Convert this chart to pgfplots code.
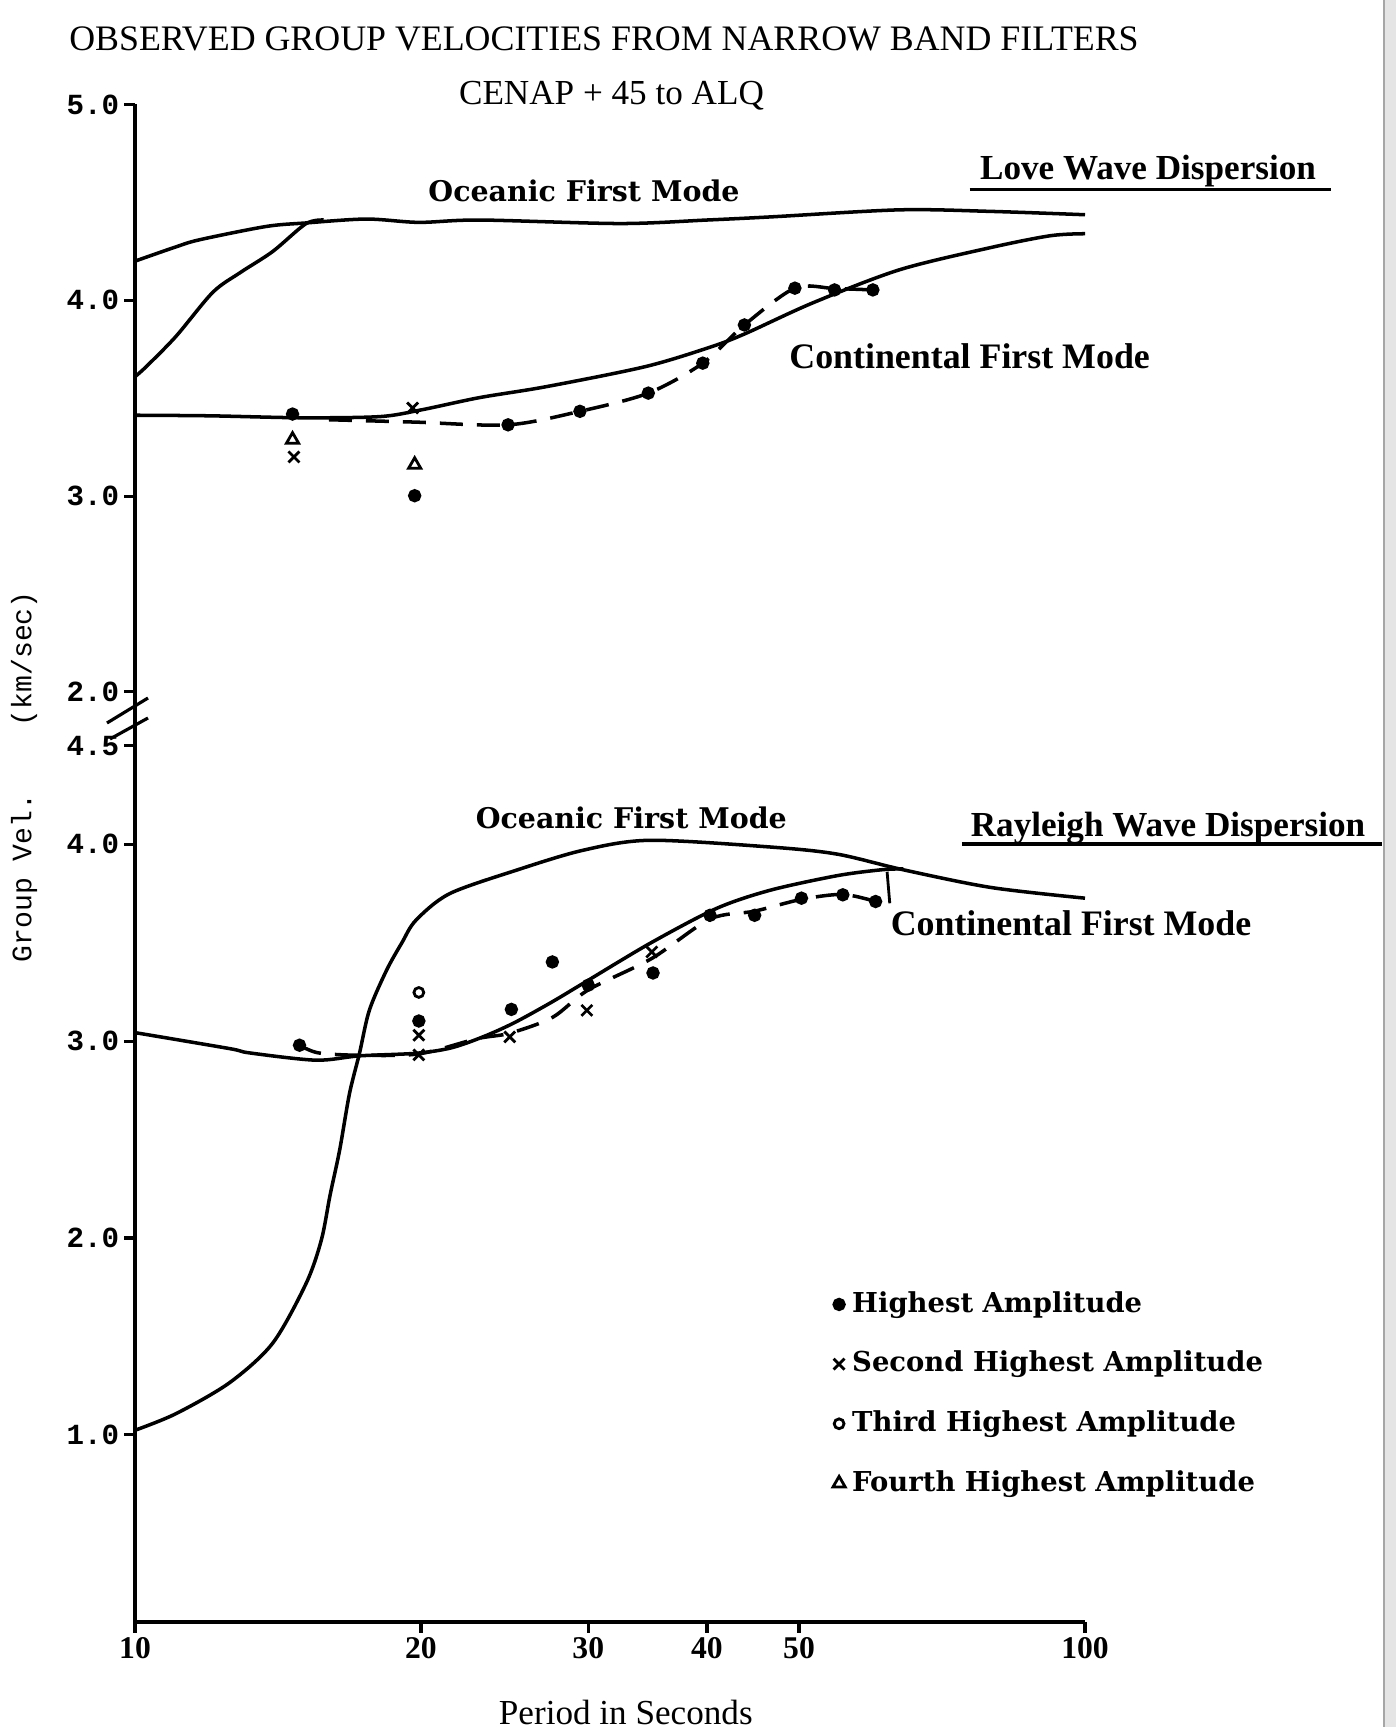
\documentclass[border=0pt]{standalone}
\usepackage{fontspec}
\usepackage{pgfplots}
\pgfplotsset{compat=1.18}
\setmainfont{Liberation Serif}
\newfontfamily\slab{DejaVu Serif}
\newfontfamily\mono{Liberation Mono}

\pgfplotsset{
  curve/.style={black, line width=1pt, smooth, tension=0.5},
  fitline/.style={black, line width=1pt, smooth, tension=0.5, dash pattern=on 2.3mm off 1.4mm},
  pts/.style={only marks, black, line width=0.8pt,
    legend image code/.code={\draw[mark repeat=2,mark phase=2,##1] plot coordinates {(0mm,0mm)(1mm,0mm)(2mm,0mm)};}},
  dots/.style={pts, mark=*, mark size=1.5pt},
  xs/.style={pts, mark=x, mark size=2.2pt},
  os/.style={pts, mark=o, mark size=1.4pt},
  tris/.style={pts, mark=triangle, mark size=2pt},
}

\begin{document}
\begin{tikzpicture}
\path[use as bounding box] (0,0) rectangle (139.6mm,-172.7mm);
\fill[black!10] (138.3mm,0) rectangle (139.6mm,-172.7mm);
\draw[black!35, line width=0.6pt] (138.4mm,0) -- (138.4mm,-172.7mm);

% Love wave panel
\begin{axis}[
  xmode=log, xmin=10, xmax=100, ymin=2, ymax=5,
  scale only axis, width=95mm, height=58.74mm,
  at={(13.5mm,-69.19mm)}, anchor=south west,
  axis x line=none, axis y line*=left,
  xtick=\empty, ytick={2,3,4,5}, yticklabels={2.0,3.0,4.0,5.0},
  tick align=outside, major tick length=1.1mm,
  axis line style={line width=1.3pt},
  every tick/.style={black, line width=0.9pt},
  yticklabel style={font=\mono\bfseries\fontsize{8.3}{8}\selectfont, inner sep=1.2pt},
  yminorticks=false, clip=false]
\addplot[curve] coordinates {(10,4.20)(11.0,4.27)(11.69,4.309)(13.74,4.377)(15.13,4.395)(17.52,4.415)(19.9,4.398)(23.05,4.41)(32.4,4.392)(40,4.41)(46.7,4.426)(63.8,4.462)(79.7,4.454)(100,4.437)};
\addplot[curve] coordinates {(10,3.61)(10.27,3.66)(11.04,3.815)(12.07,4.04)(12.89,4.14)(13.96,4.249)(15.13,4.391)(15.8,4.41)};
\addplot[curve] coordinates {(10,3.413)(12,3.41)(15,3.40)(18.1,3.406)(20,3.44)(23.05,3.503)(27.1,3.559)(34.5,3.662)(40.5,3.764)(44,3.832)(51.7,3.987)(63.8,4.156)(79.7,4.27)(92,4.33)(100,4.34)};
\addplot[fitline] coordinates {(16.0,3.39)(19.7,3.378)(24.7,3.364)(29.4,3.433)(34.7,3.526)(39.6,3.679)(43.8,3.874)(49.5,4.062)(54.5,4.06)(59.8,4.053)};
\addplot[dots] coordinates {(14.65,3.419)(19.7,3.002)(24.7,3.364)(29.4,3.433)(34.7,3.526)(39.6,3.679)(43.8,3.874)(49.5,4.062)(54.5,4.053)(59.8,4.053)};
\addplot[xs] coordinates {(14.7,3.20)(19.6,3.45)};
\addplot[tris] coordinates {(14.65,3.288)(19.7,3.16)};
\end{axis}

% Rayleigh wave panel
\begin{axis}[
  xmode=log, xmin=10, xmax=100, ymin=0.05, ymax=4.5,
  scale only axis, width=95mm, height=87.6mm,
  at={(13.5mm,-162.18mm)}, anchor=south west,
  axis x line*=bottom, axis y line*=left,
  ytick={1,2,3,4,4.5}, yticklabels={1.0,2.0,3.0,4.0,4.5},
  xtick={10,20,30,40,50,100}, xticklabels={10,20,30,40,50,100},
  tick align=outside, major tick length=1.1mm,
  axis line style={line width=1.3pt},
  every tick/.style={black, line width=0.9pt},
  yticklabel style={font=\mono\bfseries\fontsize{8.3}{8}\selectfont, inner sep=1.2pt},
  xticklabel style={font=\bfseries\fontsize{9}{9}\selectfont, inner sep=1pt},
  xminorticks=false, yminorticks=false, clip=false,
  legend style={draw=none, fill=none, at={(0.734,0.386)}, anchor=north west,
    font=\slab\bfseries\fontsize{7.8}{9}\selectfont, row sep=1.95mm, inner sep=0pt},
  legend cell align=left]
\addplot[curve, forget plot] coordinates {(10,1.023)(11.04,1.107)(12.57,1.264)(13.96,1.465)(15.14,1.769)(15.71,1.99)(16.05,2.22)(16.42,2.445)(16.82,2.734)(17.23,2.937)(17.65,3.157)(18.4,3.36)(19.1,3.50)(19.76,3.614)(21.44,3.749)(25.2,3.868)(29.6,3.969)(34.8,4.02)(46.6,3.986)(54.8,3.95)(64.4,3.87)(79.7,3.78)(100,3.726)};
\addplot[curve, forget plot] coordinates {(10,3.043)(12.57,2.962)(13.2,2.94)(15.5,2.903)(17.23,2.925)(19.76,2.938)(21.5,2.965)(23.2,3.02)(25,3.09)(27.3,3.191)(29.6,3.292)(34.8,3.495)(40.9,3.673)(46.6,3.766)(54.8,3.84)(61,3.87)(64.4,3.875)};
\addplot[fitline, forget plot] coordinates {(14.9,2.979)(15.6,2.94)(17.23,2.928)(19.9,2.935)(22.9,3.012)(24.8,3.04)(27.5,3.12)(30,3.26)(35,3.42)(40.3,3.62)(44.9,3.66)(50.3,3.72)(55.6,3.745)(60.2,3.709)};
\draw[line width=0.8pt] (axis cs:61.9,3.86) -- (axis cs:62.3,3.70);
\addplot[dots] coordinates {(14.9,2.979)(19.9,3.102)(24.9,3.161)(27.5,3.402)(30.0,3.284)(35.1,3.346)(40.3,3.639)(44.9,3.639)(50.3,3.726)(55.6,3.743)(60.2,3.709)};
\addlegendentry{Highest Amplitude}
\addplot[xs] coordinates {(19.9,3.03)(19.9,2.93)(24.8,3.021)(29.9,3.156)(35,3.453)};
\addlegendentry{Second Highest Amplitude}
\addplot[os] coordinates {(19.9,3.247)};
\addlegendentry{Third Highest Amplitude}
\addlegendimage{tris}
\addlegendentry{Fourth Highest Amplitude}
\end{axis}

% axis break
\draw[line width=1.3pt] (13.5mm,-69.19mm) -- (13.5mm,-74.59mm);
\draw[line width=0.9pt] (10.7mm,-72.3mm) -- (14.8mm,-69.8mm);
\draw[line width=0.9pt] (11.0mm,-73.9mm) -- (14.8mm,-71.8mm);

% texts
\node[font=\fontsize{10.2}{10}\selectfont] at (60.4mm,-3.86mm) {OBSERVED GROUP VELOCITIES FROM NARROW BAND FILTERS};
\node[font=\fontsize{10}{10}\selectfont] at (61.15mm,-9.59mm) {CENAP + 45 to ALQ};
\node[font=\slab\bfseries\fontsize{8.1}{9}\selectfont] at (58.4mm,-19.06mm) {Oceanic First Mode};
\node[font=\bfseries\fontsize{10}{10}\selectfont] at (114.8mm,-17.08mm) {Love Wave Dispersion};
\draw[line width=1pt] (96.96mm,-18.95mm) -- (133.1mm,-18.95mm);
\node[font=\bfseries\fontsize{10.2}{10}\selectfont] at (96.96mm,-35.59mm) {Continental First Mode};
\node[font=\slab\bfseries\fontsize{8.1}{9}\selectfont] at (63.13mm,-81.75mm) {Oceanic First Mode};
\node[font=\bfseries\fontsize{10}{10}\selectfont] at (116.8mm,-82.86mm) {Rayleigh Wave Dispersion};
\draw[line width=1pt] (96.19mm,-84.4mm) -- (138.2mm,-84.4mm);
\node[font=\bfseries\fontsize{10.2}{10}\selectfont] at (107.1mm,-92.33mm) {Continental First Mode};
\node[font=\fontsize{10}{10}\selectfont] at (62.58mm,-171.2mm) {Period in Seconds};
\node[font=\mono\fontsize{8}{8}\selectfont, rotate=90] at (2.42mm,-77.68mm) {Group Vel.~~~~(km/sec)};
\end{tikzpicture}
\end{document}
